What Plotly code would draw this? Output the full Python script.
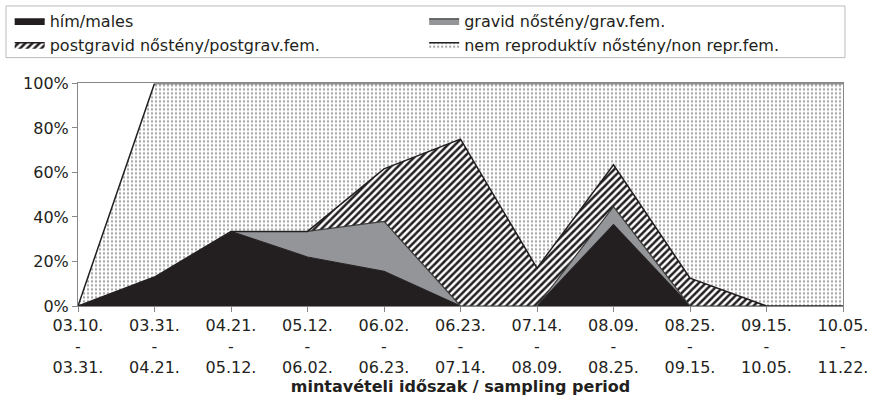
import plotly.graph_objects as go

periods_start = ["03.10.", "03.31.", "04.21.", "05.12.", "06.02.", "06.23.", "07.14.", "08.09.", "08.25.", "09.15.", "10.05."]
periods_end = ["03.31.", "04.21.", "05.12.", "06.02.", "06.23.", "07.14.", "08.09.", "08.25.", "09.15.", "10.05.", "11.22."]

males = [0, 13, 33.5, 22, 15.6, 0, 0, 36.6, 0, 0, 0]
gravid = [0, 0, 0, 11.5, 22.4, 0, 0, 8, 0, 0, 0]
postgravid = [0, 0, 0, 0, 23.6, 75, 17, 18.8, 12.5, 0, 0]
nonrepr = [0, 87, 66.5, 66.5, 38.4, 25, 83, 36.6, 87.5, 100, 100]

names = ["hím/males", "gravid nőstény/grav.fem.", "postgravid nőstény/postgrav.fem.",
         "nem reproduktív nőstény/non repr.fem."]

y_ticks = [0, 20, 40, 60, 80, 100]
y_ticktext = [f"{v}%" for v in y_ticks]

x = list(range(len(periods_start)))
ticktext = [f"{a}<br>-<br>{b}" for a, b in zip(periods_start, periods_end)]

FONT = "DejaVu Sans, Liberation Sans, Arial, sans-serif"
INK = "#231f20"

fig = go.Figure()
fig.add_trace(go.Scatter(x=x, y=males, name=names[0], stackgroup="a", mode="lines",
                         legend="legend",
                         line=dict(color=INK, width=1.2), fillcolor=INK))
fig.add_trace(go.Scatter(x=x, y=gravid, name=names[1], stackgroup="a", mode="lines",
                         legend="legend2",
                         line=dict(color="#3a3a3a", width=1.2), fillcolor="#939598"))
fig.add_trace(go.Scatter(x=x, y=postgravid, name=names[2], stackgroup="a", mode="lines",
                         legend="legend",
                         line=dict(color=INK, width=1.5),
                         fillpattern=dict(shape="/", size=5, solidity=0.5, fgcolor=INK,
                                          bgcolor="white", fillmode="replace")))
fig.add_trace(go.Scatter(x=x, y=nonrepr, name=names[3], stackgroup="a", mode="lines",
                         legend="legend2",
                         line=dict(color=INK, width=1.5),
                         fillpattern=dict(shape=".", size=4, solidity=0.25, fgcolor="#a0a0a0",
                                          bgcolor="white", fillmode="replace")))

legend_common = dict(orientation="h", xref="container", yref="container",
                     xanchor="left", yanchor="top", borderwidth=0, bgcolor="rgba(0,0,0,0)",
                     entrywidth=360, entrywidthmode="pixels",
                     font=dict(family=FONT, size=16, color=INK), itemwidth=30,
                     tracegroupgap=0, traceorder="normal")

fig.update_layout(
    width=880, height=403,
    margin=dict(l=78, r=37, t=83, b=96),
    paper_bgcolor="white", plot_bgcolor="white",
    font=dict(family=FONT, size=16, color=INK),
    showlegend=True,
    legend=dict(x=0.011, y=0.99, **legend_common),
    legend2=dict(x=0.482, y=0.99, **legend_common),
    shapes=[dict(type="rect", xref="paper", yref="paper",
                 x0=-0.0941, x1=1.0026, y0=1.116, y1=1.348,
                 line=dict(color="#bbbbbb", width=1), fillcolor="rgba(0,0,0,0)", layer="below")],
)
fig.update_xaxes(range=[0, 10], tickmode="array", tickvals=x, ticktext=ticktext,
                 showgrid=False, zeroline=False, showline=True, linecolor="#888888", linewidth=1,
                 mirror=True, ticks="outside", ticklen=5, tickcolor="#888888",
                 tickfont=dict(family=FONT, size=16, color=INK), tickangle=0,
                 title=dict(text="<b>mintavételi időszak / sampling period</b>",
                            font=dict(family=FONT, size=16, color=INK), standoff=3))
fig.update_yaxes(range=[0, 100], tickmode="array", tickvals=y_ticks, ticktext=y_ticktext,
                 showgrid=False, zeroline=False, showline=True, linecolor="#888888", linewidth=1,
                 mirror=True, ticks="outside", ticklen=5, tickcolor="#888888",
                 tickfont=dict(family=FONT, size=16, color=INK))

fig.write_html("out.html")
